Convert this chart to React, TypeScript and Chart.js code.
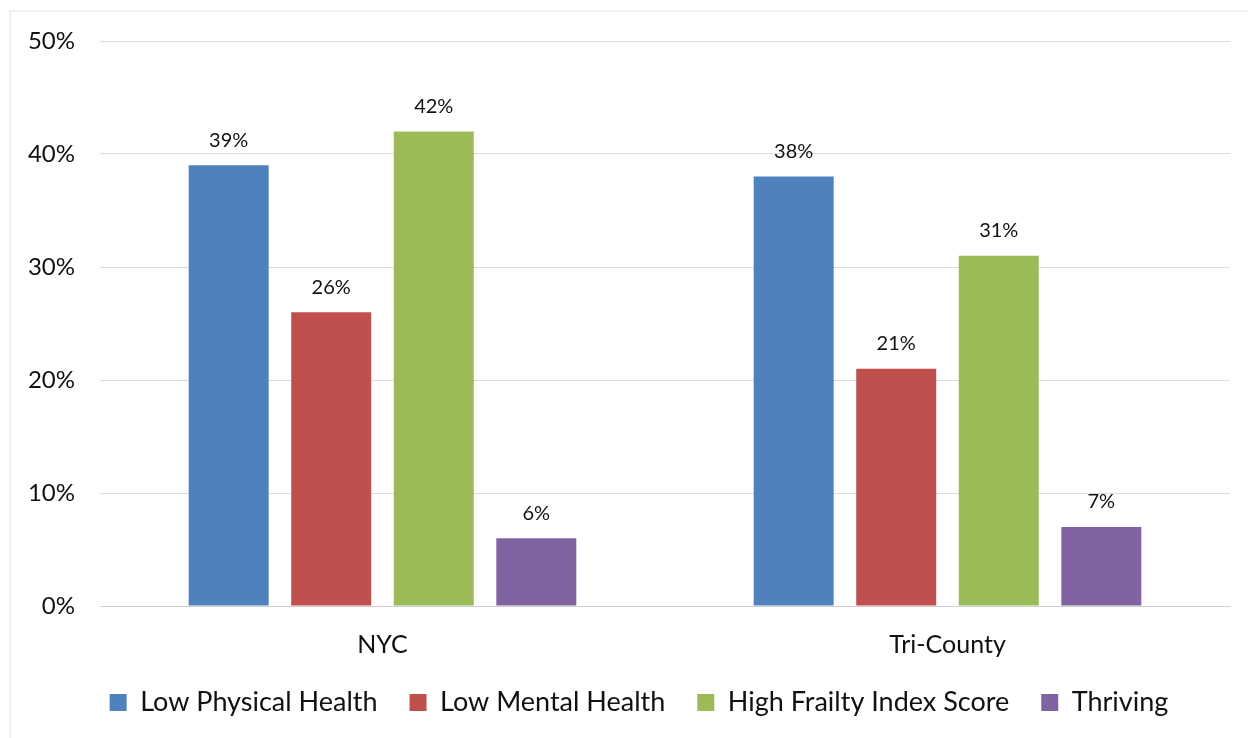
import React, { useEffect, useRef } from "react";
import { Chart, registerables } from "chart.js";

Chart.register(...registerables);

const categories = ["NYC", "Tri-County"];
const seriesNames = ["Low Physical Health", "Low Mental Health", "High Frailty Index Score", "Thriving"];
const lowPhysical = [39, 38];
const lowMental = [26, 21];
const highFrailty = [42, 31];
const thriving = [6, 7];
const seriesColors = ["#4F81BD", "#C0504D", "#9BBB59", "#8064A2"];
const yTicks = [0, 10, 20, 30, 40, 50];

const FONT = "Lato, 'Open Sans', sans-serif";

// Writes each bar's percentage just above its top edge
const valueLabels = {
  id: "valueLabels",
  afterDatasetsDraw(chart: any) {
    const ctx = chart.ctx;
    ctx.save();
    ctx.font = `20px ${FONT}`;
    ctx.fillStyle = "#111";
    ctx.textAlign = "center";
    ctx.textBaseline = "middle";
    chart.data.datasets.forEach((ds: any, i: number) => {
      const meta = chart.getDatasetMeta(i);
      meta.data.forEach((bar: any, j: number) => {
        ctx.fillText(`${ds.data[j]}%`, bar.x, bar.y - 25);
      });
    });
    ctx.restore();
  },
};

// Centres the legend row under the whole canvas rather than the plot column
const legendShift = {
  id: "legendShift",
  beforeDraw(chart: any) {
    const lg = chart.legend;
    if (lg && !lg._shifted) {
      lg.left += 24;
      lg.right += 24;
      lg._shifted = true;
    }
  },
  afterLayout(chart: any) {
    if (chart.legend) chart.legend._shifted = false;
  },
};

export default function App() {
  const ref = useRef<HTMLCanvasElement>(null);

  useEffect(() => {
    if (!ref.current) return;
    const values = [lowPhysical, lowMental, highFrailty, thriving];
    const chart = new Chart(ref.current, {
      type: "bar",
      data: {
        labels: categories,
        datasets: seriesNames.map((name, i) => ({
          label: name,
          data: values[i],
          backgroundColor: seriesColors[i],
          borderWidth: 0,
          categoryPercentage: 0.726,
          barPercentage: 0.78,
        })),
      },
      options: {
        animation: false,
        responsive: false,
        maintainAspectRatio: false,
        layout: { padding: { top: 41, right: 18, bottom: 12, left: 0 } },
        plugins: {
          title: { display: false },
          tooltip: { enabled: false },
          legend: {
            position: "bottom",
            labels: {
              font: { family: FONT, size: 27 },
              color: "#111",
              boxWidth: 17,
              boxHeight: 17,
              padding: 32,
            },
          },
        },
        scales: {
          x: {
            grid: { display: false, drawTicks: false },
            border: { display: true, color: "#d0d0d0", width: 1 },
            ticks: { font: { family: FONT, size: 25, lineHeight: 1 }, color: "#111", padding: 26 },
            afterFit: (scale: any) => {
              scale.height = 51;
            },
          },
          y: {
            min: 0,
            max: 50,
            afterBuildTicks: (scale: any) => {
              scale.ticks = yTicks.map((v) => ({ value: v }));
            },
            grid: { color: "#dcdcdc", lineWidth: 1, drawTicks: false },
            border: { display: false },
            ticks: {
              font: { family: FONT, size: 24 },
              color: "#111",
              padding: 25,
              callback: (v: any) => `${v}%`,
            },
            afterFit: (scale: any) => {
              scale.width = 100;
            },
          },
        },
      },
      plugins: [valueLabels, legendShift],
    });
    return () => chart.destroy();
  }, []);

  return (
    <div style={{ position: "fixed", left: 0, top: 0, width: 1248, height: 738, background: "#fff" }}>
      <div
        style={{
          position: "absolute",
          left: 9,
          top: 10,
          width: 1239,
          height: 728,
          borderLeft: "2px solid #efefef",
          borderTop: "2px solid #efefef",
          boxSizing: "border-box",
        }}
      />
      <canvas ref={ref} width={1248} height={738} style={{ position: "absolute", left: 0, top: 0 }} />
    </div>
  );
}
